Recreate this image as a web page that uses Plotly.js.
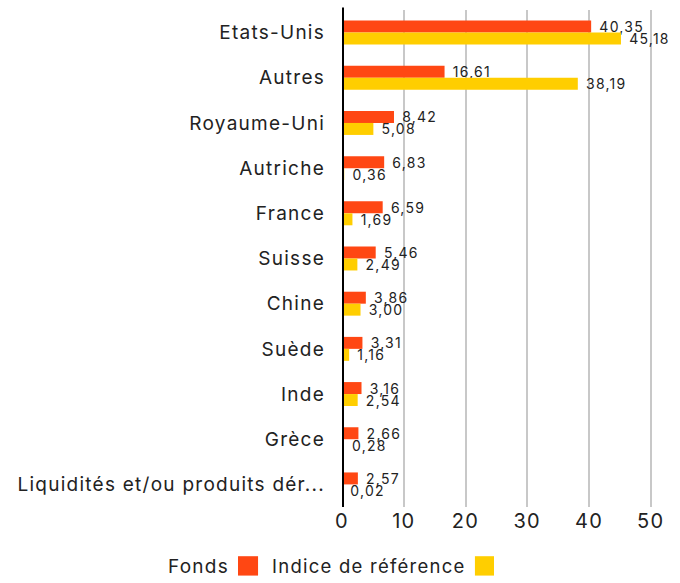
<!DOCTYPE html>
<html><head><meta charset="utf-8">
<script src="https://cdn.plot.ly/plotly-3.0.1.min.js"></script>
<style>body{margin:0;background:#fff}#c{width:680px;height:583px}svg text{letter-spacing:1.25px}</style>
</head><body><div id="c"></div>
<script>
const categories = ["Etats-Unis","Autres","Royaume-Uni","Autriche","France","Suisse","Chine","Suède","Inde","Grèce","Liquidités et/ou produits dér..."];
const fonds = [40.35,16.61,8.42,6.83,6.59,5.46,3.86,3.31,3.16,2.66,2.57];
const indice = [45.18,38.19,5.08,0.36,1.69,2.49,3.00,1.16,2.54,0.28,0.02];
const seriesNames = ["Fonds","Indice de référence"];
const colors = ["#FF4713","#FFCE00"];
const xTicks = [0,10,20,30,40,50];
const FONT = "Inter, 'Noto Sans', sans-serif";

const mk = (vals, i) => ({
  type:'bar', orientation:'h', y:categories, x:vals, name:seriesNames[i],
  marker:{color:colors[i]}, texttemplate:'\u00a0%{x:.2f}', textposition:'outside',
  constraintext:'none',
  textfont:{family:FONT,size:14,color:'#222'}, cliponaxis:false, showlegend:false,
  hoverinfo:'x+y'
});
const data = [mk(fonds,0), mk(indice,1)];

const layout = {
  width:680, height:583, separators:', ',
  margin:{l:342,r:20,t:10,b:76},
  barmode:'group', bargap:0.47, bargroupgap:0,
  font:{family:FONT,color:'#222'},
  paper_bgcolor:'#fff', plot_bgcolor:'#fff',
  showlegend:false,
  xaxis:{range:[0,51.5], tickvals:xTicks, ticktext:xTicks.map(String),
    showgrid:true, gridcolor:'#c8c8c8', gridwidth:2,
    zeroline:false, showline:false, ticks:'', tickfont:{size:20,color:'#222'}},
  yaxis:{autorange:'reversed', tickfont:{size:19,color:'#222'}, ticks:'',
    ticklabelstandoff:16, showgrid:false, showline:false, zeroline:false},
  shapes:[
    {type:'line', xref:'x', yref:'paper', x0:0, x1:0, y0:0, y1:1.005, line:{color:'#000',width:4}},
    {type:'rect', xref:'paper', yref:'paper', x0:-0.327, x1:-0.264, y0:-0.138, y1:-0.099, fillcolor:colors[0], line:{width:0}},
    {type:'rect', xref:'paper', yref:'paper', x0:0.418, x1:0.478, y0:-0.138, y1:-0.099, fillcolor:colors[1], line:{width:0}}
  ],
  annotations:[
    {xref:'paper', yref:'paper', x:-0.350, y:-0.119, xanchor:'right', yanchor:'middle', showarrow:false, text:seriesNames[0], font:{size:19,color:'#222'}},
    {xref:'paper', yref:'paper', x:0.395, y:-0.119, xanchor:'right', yanchor:'middle', showarrow:false, text:seriesNames[1], font:{size:18.5,color:'#222'}}
  ]
};
Plotly.newPlot('c', data, layout, {displayModeBar:false, staticPlot:true});
</script></body></html>
